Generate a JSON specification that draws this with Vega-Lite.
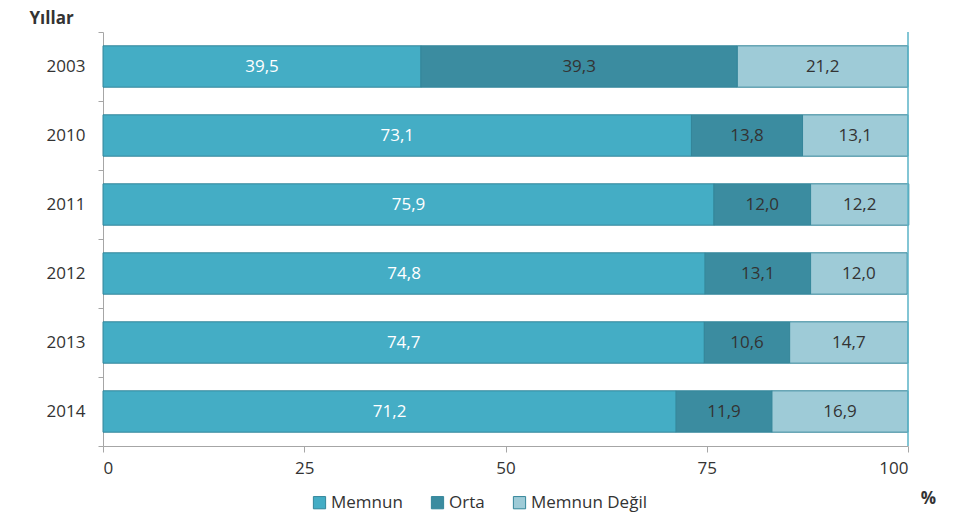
{
  "$schema": "https://vega.github.io/schema/vega-lite/v6.json",
  "width": 805,
  "height": 414,
  "autosize": {"type": "none"},
  "padding": {"left": 103, "top": 32, "right": 48, "bottom": 84},
  "background": "white",
  "config": {
    "font": "Open Sans",
    "view": {"stroke": null},
    "locale": {"number": {"decimal": ",", "thousands": ".", "grouping": [3], "currency": ["", " TL"]}}
  },
  "data": {
    "values": [
      {"yil": "2003", "kategori": "Memnun", "deger": 39.5, "sira": 1},
      {"yil": "2003", "kategori": "Orta", "deger": 39.3, "sira": 2},
      {"yil": "2003", "kategori": "Memnun Değil", "deger": 21.2, "sira": 3},
      {"yil": "2010", "kategori": "Memnun", "deger": 73.1, "sira": 1},
      {"yil": "2010", "kategori": "Orta", "deger": 13.8, "sira": 2},
      {"yil": "2010", "kategori": "Memnun Değil", "deger": 13.1, "sira": 3},
      {"yil": "2011", "kategori": "Memnun", "deger": 75.9, "sira": 1},
      {"yil": "2011", "kategori": "Orta", "deger": 12.0, "sira": 2},
      {"yil": "2011", "kategori": "Memnun Değil", "deger": 12.2, "sira": 3},
      {"yil": "2012", "kategori": "Memnun", "deger": 74.8, "sira": 1},
      {"yil": "2012", "kategori": "Orta", "deger": 13.1, "sira": 2},
      {"yil": "2012", "kategori": "Memnun Değil", "deger": 12.0, "sira": 3},
      {"yil": "2013", "kategori": "Memnun", "deger": 74.7, "sira": 1},
      {"yil": "2013", "kategori": "Orta", "deger": 10.6, "sira": 2},
      {"yil": "2013", "kategori": "Memnun Değil", "deger": 14.7, "sira": 3},
      {"yil": "2014", "kategori": "Memnun", "deger": 71.2, "sira": 1},
      {"yil": "2014", "kategori": "Orta", "deger": 11.9, "sira": 2},
      {"yil": "2014", "kategori": "Memnun Değil", "deger": 16.9, "sira": 3}
    ]
  },
  "transform": [
    {"stack": "deger", "groupby": ["yil"], "sort": [{"field": "sira", "order": "ascending"}], "as": ["x0", "x1"]},
    {"calculate": "(datum.x0 + datum.x1) / 2", "as": "xmid"}
  ],
  "layer": [
    {
      "mark": {"type": "bar", "stroke": "#34869a", "strokeWidth": 1, "height": {"band": 0.6}},
      "encoding": {
        "y": {
          "field": "yil",
          "type": "nominal",
          "sort": ["2003", "2010", "2011", "2012", "2013", "2014"],
          "scale": {"paddingInner": 0, "paddingOuter": 0},
          "axis": {
            "title": "Yıllar",
            "titleAngle": 0,
            "titleAlign": "left",
            "titleBaseline": "middle",
            "titleX": -74,
            "titleY": -14,
            "titleFontSize": 17,
            "titleFontWeight": "bold",
            "titleColor": "#333333",
            "tickBand": "extent",
            "tickSize": 5,
            "tickColor": "#a6a6a6",
            "domainColor": "#a6a6a6",
            "labelFontSize": 17,
            "labelColor": "#333333",
            "labelPadding": 13
          }
        },
        "x": {
          "field": "x0",
          "type": "quantitative",
          "scale": {"domain": [0, 100], "nice": false},
          "axis": {
            "values": [0, 25, 50, 75, 100],
            "title": "%",
            "titleX": 825,
            "titleY": 52,
            "titleAlign": "center",
            "titleBaseline": "middle",
            "titleFontSize": 17,
            "titleFontWeight": "bold",
            "titleColor": "#333333",
            "grid": false,
            "tickSize": 6,
            "tickColor": "#a6a6a6",
            "domainColor": "#a6a6a6",
            "labelFontSize": 17,
            "labelColor": "#333333",
            "labelPadding": 8
          }
        },
        "x2": {"field": "x1"},
        "color": {
          "field": "kategori",
          "type": "nominal",
          "scale": {
            "domain": ["Memnun", "Orta", "Memnun Değil"],
            "range": ["#44adc5", "#3b8ca0", "#9ecbd7"]
          },
          "legend": {
            "title": null,
            "orient": "none",
            "direction": "horizontal",
            "legendX": 208,
            "legendY": 462,
            "symbolType": "square",
            "symbolSize": 150,
            "symbolStrokeColor": "#34869a",
            "symbolStrokeWidth": 1,
            "labelFontSize": 17,
            "labelColor": "#333333",
            "columnPadding": 26,
            "labelOffset": 3
          }
        }
      }
    },
    {
      "mark": {"type": "text", "fontSize": 17, "baseline": "middle", "align": "center"},
      "encoding": {
        "y": {"field": "yil", "type": "nominal", "sort": ["2003", "2010", "2011", "2012", "2013", "2014"]},
        "x": {"field": "xmid", "type": "quantitative"},
        "text": {"field": "deger", "type": "quantitative", "format": ".1f"},
        "color": {
          "condition": {"test": "datum.kategori === 'Memnun'", "value": "white"},
          "value": "#333333"
        }
      }
    },
    {
      "data": {"values": [{"v": 100}]},
      "mark": {"type": "rule", "color": "#5ab3c7", "strokeWidth": 1.5},
      "encoding": {"x": {"field": "v", "type": "quantitative"}}
    }
  ]
}
